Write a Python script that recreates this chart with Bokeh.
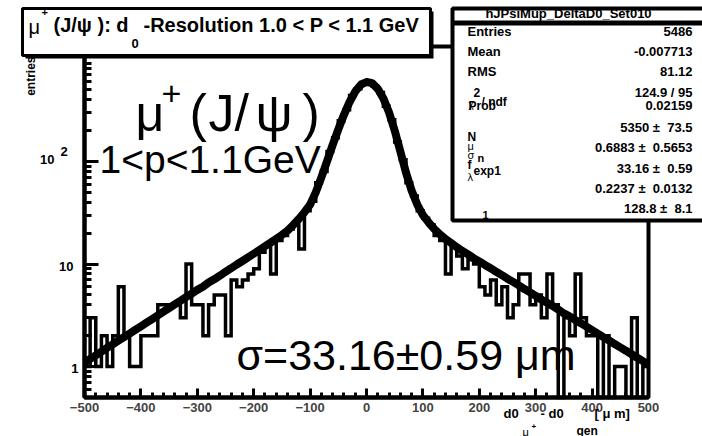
import math
from bokeh.plotting import figure
from bokeh.models import FixedTicker, Label, BoxAnnotation
from bokeh.embed import file_html
from bokeh.resources import INLINE

# ---------------- data ----------------
bin_low = -500.0
bin_width = 10.0
hist_counts = [
    1, 3, 1, 2, 1, 2, 6, 2, 1, 1,
    2, 2, 2, 4, 4, 4, 4, 3, 10, 4,
    4, 2, 4, 5, 5, 2, 7, 6, 7, 8,
    9, 13, 15, 8, 17, 19, 22, 24, 14, 33,
    41, 62, 80, 125, 170, 250, 320, 440, 510, 590,
    600, 540, 470, 345, 255, 155, 104, 62, 46, 33,
    28, 24, 19, 17, 8, 15, 12, 9, 11, 10,
    6, 5, 7, 4, 6, 3, 4, 8, 8, 4,
    5, 3, 8, 4, 0, 3, 2, 8, 3, 2,
    2, 0, 2, 0, 1, 1, 0, 3, 0, 1,
]
fit_x = [
    -500, -490, -480, -470, -460, -450, -440, -430, -420, -410,
    -400, -390, -380, -370, -360, -350, -340, -330, -320, -310,
    -300, -290, -280, -270, -260, -250, -240, -230, -220, -210,
    -200, -190, -180, -170, -160, -150, -140, -130, -120, -110,
    -100, -90, -80, -70, -60, -50, -40, -30, -20, -10,
    0, 10, 20, 30, 40, 50, 60, 70, 80, 90,
    100, 110, 120, 130, 140, 150, 160, 170, 180, 190,
    200, 210, 220, 230, 240, 250, 260, 270, 280, 290,
    300, 310, 320, 330, 340, 350, 360, 370, 380, 390,
    400, 410, 420, 430, 440, 450, 460, 470, 480, 490, 500,
]
fit_y = [
    1.10, 1.19, 1.29, 1.40, 1.52, 1.65, 1.79, 1.94, 2.10, 2.28,
    2.47, 2.68, 2.91, 3.16, 3.43, 3.72, 4.04, 4.38, 4.75, 5.15,
    5.6, 6.0, 6.6, 7.1, 7.7, 8.4, 9.1, 9.9, 10.7, 11.6,
    12.6, 13.7, 14.9, 16.2, 17.6, 19.2, 21.2, 24.0, 27.5, 32.0,
    38, 50, 70, 100, 145, 205, 285, 380, 480, 560,
    595, 580, 510, 410, 300, 200, 125, 78, 52, 38,
    30, 25.5, 22, 19.5, 17.5, 16, 14.6, 13.4, 12.4, 11.4,
    10.6, 9.8, 9.1, 8.4, 7.8, 7.2, 6.7, 6.2, 5.7, 5.3,
    4.9, 4.5, 4.2, 3.9, 3.6, 3.3, 3.1, 2.85, 2.65, 2.45,
    2.27, 2.1, 1.94, 1.8, 1.66, 1.54, 1.43, 1.32, 1.22, 1.13, 1.05,
]
x_tick_values = [-500, -400, -300, -200, -100, 0, 100, 200, 300, 400, 500]
y_tick_values = [1, 10, 100]

stats_names = ["Entries", "Mean", "RMS"]
stats_values = ["5486", "-0.007713", "81.12", "124.9 / 95", "0.02159",
                "5350 \u00b1\u00a0 73.5", "0.6883 \u00b1\u00a0 0.5653", "33.16 \u00b1\u00a0 0.59",
                "0.2237 \u00b1\u00a0 0.0132", "128.8 \u00b1\u00a0 8.1"]

# ---------------- layout ----------------
W, H = 702, 436
FL, FR, FT, FB = 84, 648, 46, 397          # pixel box of the histogram frame
XMIN, XMAX = -500.0, 500.0
YMIN, YMAX = 0.5, 1320.0
FONT = "Liberation Sans"


def dx(px):
    return XMIN + (px - FL) * (XMAX - XMIN) / (FR - FL)


def dy(py):
    l0, l1 = math.log10(YMIN), math.log10(YMAX)
    return 10 ** (l0 + (FB - py) * (l1 - l0) / (FB - FT))


# the plotting area spans the whole canvas; the axes sit at fixed data locations
p = figure(width=W, height=H, x_range=(dx(0), dx(W)), y_range=(dy(H), dy(0)),
           y_axis_type="log", output_backend="svg", toolbar_location=None,
           min_border=0, min_border_left=0, min_border_right=0,
           min_border_top=0, min_border_bottom=0)
p.title.visible = False
p.grid.visible = False
p.background_fill_color = "white"
p.border_fill_color = "white"
p.outline_line_color = None

xa = p.xaxis[0]
xa.fixed_location = YMIN
xa.bounds = (XMIN, XMAX)
xa.ticker = FixedTicker(ticks=x_tick_values, minor_ticks=list(range(-500, 501, 20)))
xa.axis_line_width = 4
xa.major_tick_in = 9
xa.major_tick_out = 0
xa.minor_tick_in = 5
xa.minor_tick_out = 0
xa.major_tick_line_width = 3
xa.minor_tick_line_width = 3
xa.major_label_text_font = FONT
xa.major_label_text_font_style = "bold"
xa.major_label_text_font_size = "13px"
xa.major_label_standoff = 5

ya = p.yaxis[0]
ya.fixed_location = XMIN
ya.bounds = (YMIN, YMAX)
minor_y = [0.5, 0.6, 0.7, 0.8, 0.9] + [m * d for d in (1, 10, 100) for m in range(2, 10)]
ya.ticker = FixedTicker(ticks=y_tick_values, minor_ticks=minor_y)
ya.axis_line_width = 4
ya.major_tick_in = 14
ya.major_tick_out = 0
ya.minor_tick_in = 7
ya.minor_tick_out = 0
ya.major_tick_line_width = 3
ya.minor_tick_line_width = 3
ya.major_label_overrides = {1: "", 10: "", 100: ""}

# ---------------- marks ----------------
edges = [bin_low + bin_width * i for i in range(len(hist_counts) + 1)]
plot_counts = [c if c > 0 else YMIN for c in hist_counts]
p.step(x=edges, y=plot_counts + [plot_counts[-1]], mode="after",
       line_width=3.5, line_color="black", line_join="miter")
p.line(x=fit_x, y=fit_y, line_width=8, line_color="black", line_join="round")

# frame outline
p.add_layout(BoxAnnotation(left=XMIN, right=XMAX, bottom=YMIN, top=YMAX,
                           fill_color=None, line_color="black", line_width=4,
                           line_alpha=1.0))


def lab(px, py, text, size, bold=False, align="left", angle=0.0):
    # py is the vertical centre of the text in canvas pixels (from top)
    p.add_layout(Label(x=px, y=H - py, x_units="screen", y_units="screen",
                       text=text, text_font=FONT,
                       text_font_size=f"{size}px",
                       text_font_style="bold" if bold else "normal",
                       text_align=align, text_baseline="middle", angle=angle,
                       text_color="black"))


def box(l, r, t, b, fill="white", line_width=0, line_color="black"):
    p.add_layout(BoxAnnotation(left=l, right=r, top=H - t, bottom=H - b,
                               left_units="screen", right_units="screen",
                               top_units="screen", bottom_units="screen",
                               fill_color=fill, fill_alpha=1.0,
                               line_color=line_color if line_width else None,
                               line_width=line_width, line_alpha=1.0))


# big annotations
lab(135, 113, "\u03bc", 50)
lab(161, 93, "+", 34)
lab(189, 112, "(", 52)
lab(208, 112, "J", 52)
lab(234, 112, "/", 52)
lab(255, 112, "\u03c8", 52)
lab(302, 112, ")", 52)
lab(99, 159, "1<p<1.1GeV", 39)
lab(236, 354, "\u03c3=33.16\u00b10.59 \u03bcm", 43)

# y tick labels
lab(78, 368, "1", 13, bold=True, align="right")
lab(73, 266, "10", 13, bold=True, align="right")
lab(54, 159, "10", 13, bold=True, align="right")
lab(60, 151, "2", 13, bold=True)

# y title
lab(30, 56, "entries", 12, bold=True, align="right", angle=math.pi / 2)

# x title
lab(503, 413, "d0", 13, bold=True)
lab(522, 431, "\u03bc", 11)
lab(531, 426, "+", 8, bold=True)
lab(540, 413, "- d0", 13, bold=True)
lab(576, 430, "gen", 12, bold=True)
lab(594, 413, "[ \u03bc m]", 13, bold=True)

# title box
box(25, 433, 11, 58, fill="black")
box(22, 430, 8, 55, fill="white", line_width=3)
lab(28, 26, "\u03bc", 20)
lab(41, 11, "+", 11, bold=True)
lab(53, 24, "(J/\u03c8 ): d", 20, bold=True)
lab(131, 43, "0", 13, bold=True)
lab(143, 24, "-Resolution 1.0 < P < 1.1 GeV", 20, bold=True)

# stats box
box(452, 712, 8, 220, fill="white", line_width=4)
lab(568, 13, "hJPsiMup_DeltaD0_Set010", 13, bold=True, align="center")
lab(467, 31, stats_names[0], 13, bold=True)
lab(467, 51, stats_names[1], 13, bold=True)
lab(467, 71, stats_names[2], 13, bold=True)
box(452, 712, 20, 25, fill="black")
lab(473, 92, "2", 12, bold=True)
lab(468, 104, "\u03c7", 10)
lab(481, 101, "/ ndf", 12, bold=True)
lab(468, 105, "Prob", 12, bold=True)
lab(467, 136, "N", 12, bold=True)
lab(467, 145, "\u03bc", 11)
lab(467, 154, "\u03c3", 11)
lab(467, 164, "f", 12, bold=True)
lab(477, 157, "n", 11, bold=True)
lab(467, 176, "\u03bb", 11)
lab(473, 170, "exp1", 12, bold=True)
lab(482, 214, "1", 11, bold=True)
value_rows = [31, 51, 71, 92, 105, 127, 147, 168, 188, 208]
for row_y, txt in zip(value_rows, stats_values):
    lab(692, row_y, txt, 13, bold=True, align="right")

open("out.html", "w").write(file_html(p, INLINE))
